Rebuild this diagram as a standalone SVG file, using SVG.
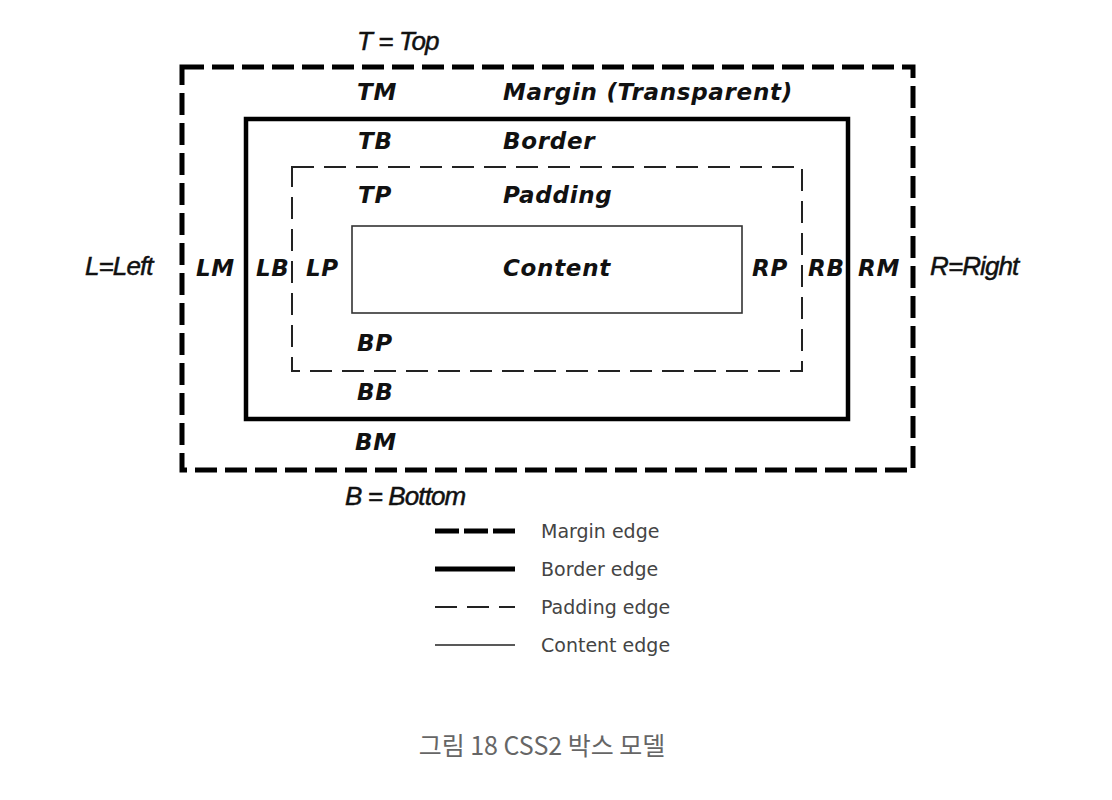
<svg xmlns="http://www.w3.org/2000/svg" width="1112" height="800" viewBox="0 0 1112 800">
<style>
.lbl{font-family:"DejaVu Sans",Verdana,sans-serif;font-weight:bold;font-style:italic;font-size:23px;fill:#111;letter-spacing:0.7px}
.side{font-family:"Liberation Sans",Arial,sans-serif;font-style:italic;font-size:26px;fill:#111;stroke:#111;stroke-width:0.5;letter-spacing:-0.9px}
.leg{font-family:"DejaVu Sans",Verdana,sans-serif;font-size:19px;fill:#444}
.cap{font-family:"Noto Sans CJK KR","Noto Sans",sans-serif;font-size:25px;fill:#666}
.margin{fill:none;stroke:#000;stroke-width:5;stroke-dasharray:22 8}
.border{fill:none;stroke:#000;stroke-width:4.5}
.padding{fill:none;stroke:#222;stroke-width:2;stroke-dasharray:22 10}
.content{fill:none;stroke:#333;stroke-width:1.6}
</style>
<rect width="1112" height="800" fill="#fff"/>
<g id="margin-box">
<rect class="margin" x="182" y="67" width="731" height="403"/>
</g>
<g id="border-box">
<rect class="border" x="246" y="119" width="602" height="300"/>
</g>
<g id="padding-box">
<rect class="padding" x="292" y="167" width="510" height="204"/>
</g>
<g id="content-box">
<rect class="content" x="352" y="226" width="390" height="87"/>
</g>
<g id="labels">
<text class="side" x="357" y="50">T = Top</text>
<text class="side" x="345" y="505">B = Bottom</text>
<text class="side" x="85" y="275">L=Left</text>
<text class="side" x="930" y="275">R=Right</text>
<text class="lbl" x="357" y="100">TM</text>
<text class="lbl" x="503" y="100">Margin (Transparent)</text>
<text class="lbl" x="358" y="149">TB</text>
<text class="lbl" x="503" y="149">Border</text>
<text class="lbl" x="358" y="203">TP</text>
<text class="lbl" x="503" y="203">Padding</text>
<text class="lbl" x="196" y="276">LM</text>
<text class="lbl" x="256" y="276">LB</text>
<text class="lbl" x="306" y="276">LP</text>
<text class="lbl" x="503" y="276">Content</text>
<text class="lbl" x="752" y="276">RP</text>
<text class="lbl" x="808" y="276">RB</text>
<text class="lbl" x="858" y="276">RM</text>
<text class="lbl" x="357" y="351">BP</text>
<text class="lbl" x="357" y="400">BB</text>
<text class="lbl" x="355" y="450">BM</text>
</g>
<g id="legend">
<line x1="435" y1="531" x2="515" y2="531" stroke="#000" stroke-width="5" stroke-dasharray="24 5"/>
<line x1="435" y1="569" x2="515" y2="569" stroke="#000" stroke-width="5"/>
<line x1="435" y1="607" x2="515" y2="607" stroke="#222" stroke-width="2" stroke-dasharray="22 10"/>
<line x1="435" y1="645" x2="515" y2="645" stroke="#222" stroke-width="1.6"/>
<text class="leg" x="541" y="538">Margin edge</text>
<text class="leg" x="541" y="576">Border edge</text>
<text class="leg" x="541" y="614">Padding edge</text>
<text class="leg" x="541" y="652">Content edge</text>
</g>
<g id="caption">
<text class="cap" x="542" y="755" text-anchor="middle">그림 18 CSS2 박스 모델</text>
</g>
</svg>
